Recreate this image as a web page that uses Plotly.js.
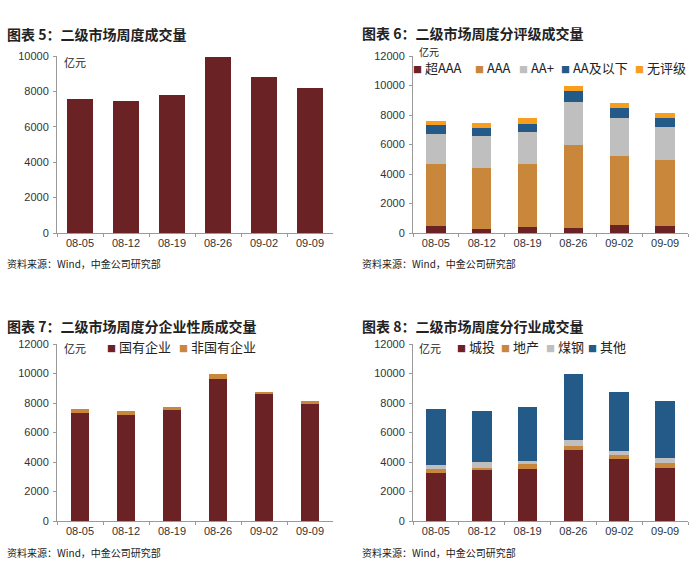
<!DOCTYPE html>
<html>
<head>
<meta charset="utf-8">
<script src="https://cdn.plot.ly/plotly-3.0.1.min.js"></script>
<style>html,body{margin:0;padding:0;background:#fff;}#chart{width:700px;height:568px;}</style>
</head>
<body>
<div id="chart"></div>
<script>
// ---- data ----
var weeks = ['08-05', '08-12', '08-19', '08-26', '09-02', '09-09'];

// 图表5 二级市场周度成交量（亿元）
var totalVolume = [7590, 7480, 7780, 9960, 8830, 8180];

// 图表6 分评级
var ratingNames = ['超AAA', 'AAA', 'AA+', 'AA及以下', '无评级'];
var superAAA = [450, 300, 390, 320, 540, 500];
var ratingAAA = [4260, 4140, 4300, 5660, 4690, 4480];
var ratingAAplus = [1990, 2130, 2130, 2920, 2540, 2220];
var ratingAAbelow = [610, 570, 590, 700, 680, 610];
var unrated = [290, 340, 360, 360, 340, 340];

// 图表7 分企业性质
var ownerNames = ['国有企业', '非国有企业'];
var stateOwned = [7310, 7200, 7520, 9650, 8580, 7920];
var nonStateOwned = [270, 250, 230, 300, 200, 230];

// 图表8 分行业
var industryNames = ['城投', '地产', '煤钢', '其他'];
var chengtou = [3240, 3460, 3550, 4800, 4190, 3620];
var property = [270, 160, 300, 290, 270, 300];
var coalSteel = [270, 360, 220, 390, 290, 320];
var others = [3800, 3470, 3670, 4460, 4030, 3910];

var titles = ['图表 5：二级市场周度成交量', '图表 6：二级市场周度分评级成交量',
              '图表 7：二级市场周度分企业性质成交量', '图表 8：二级市场周度分行业成交量'];
var sourceText = '资料来源：Wind，中金公司研究部';
var unitText = '亿元';

// ---- styles ----
var C_RED = '#6B2224', C_ORG = '#C8873A', C_GRY = '#BFBFBF', C_BLU = '#245A87', C_YEL = '#F89E1E';
var W = 700, H = 568;
function px(x) { return x / W; }
function py(y) { return 1 - y / H; }
var FONT = 'Liberation Sans, Arial, Noto Sans CJK SC, sans-serif';
var CJK = 'Noto Sans CJK SC, sans-serif';

function bar(y, name, color, xa, ya, w) {
  return { type: 'bar', x: weeks, y: y, name: name, marker: { color: color, line: { width: 0 } },
           xaxis: xa, yaxis: ya, width: w, showlegend: false, hoverinfo: 'x+y+name' };
}

var data = [
  bar(totalVolume, '成交量', C_RED, 'x', 'y', 0.57),
  bar(superAAA, ratingNames[0], C_RED, 'x2', 'y2', 0.42),
  bar(ratingAAA, ratingNames[1], C_ORG, 'x2', 'y2', 0.42),
  bar(ratingAAplus, ratingNames[2], C_GRY, 'x2', 'y2', 0.42),
  bar(ratingAAbelow, ratingNames[3], C_BLU, 'x2', 'y2', 0.42),
  bar(unrated, ratingNames[4], C_YEL, 'x2', 'y2', 0.42),
  bar(stateOwned, ownerNames[0], C_RED, 'x3', 'y3', 0.41),
  bar(nonStateOwned, ownerNames[1], C_ORG, 'x3', 'y3', 0.41),
  bar(chengtou, industryNames[0], C_RED, 'x4', 'y4', 0.43),
  bar(property, industryNames[1], C_ORG, 'x4', 'y4', 0.43),
  bar(coalSteel, industryNames[2], C_GRY, 'x4', 'y4', 0.43),
  bar(others, industryNames[3], C_BLU, 'x4', 'y4', 0.43)
];

function xax(l, r, anchor) {
  return { domain: [px(l), px(r)], anchor: anchor, type: 'category', categoryorder: 'array', categoryarray: weeks,
           showline: true, linecolor: '#9A9A9A', linewidth: 1, ticks: 'outside', tickson: 'boundaries',
           ticklen: 3, tickcolor: '#9A9A9A', showgrid: false, zeroline: false, fixedrange: true,
           tickfont: { family: FONT, size: 11, color: '#333' } };
}
function yax(t, b, anchor, max, dtick) {
  return { domain: [py(b), py(t)], anchor: anchor, range: [0, max], dtick: dtick, tickformat: 'd',
           showline: true, linecolor: '#9A9A9A', linewidth: 1, ticks: 'outside', ticklen: 3, tickcolor: '#9A9A9A',
           showgrid: false, zeroline: false, fixedrange: true, ticklabelstandoff: 2,
           tickfont: { family: FONT, size: 11, color: '#333' } };
}

var annotations = [];
function txt(x, y, text, size, opts) {
  var a = { xref: 'paper', yref: 'paper', x: px(x), y: py(y), text: text, showarrow: false,
            xanchor: 'left', yanchor: 'middle', borderpad: 0, font: { family: CJK, size: size, color: '#222' } };
  for (var k in opts) a[k] = opts[k];
  annotations.push(a);
}
// titles
txt(6, 34, '<b>' + titles[0] + '</b>', 14);
txt(361, 33, '<b>' + titles[1] + '</b>', 14);
txt(6, 326, '<b>' + titles[2] + '</b>', 14);
txt(361, 326, '<b>' + titles[3] + '</b>', 14);
// sources
txt(6, 263, sourceText, 10);
txt(361, 263, sourceText, 10);
txt(6, 552, sourceText, 10);
txt(361, 552, sourceText, 10);
// units
txt(63, 62, unitText, 11);
txt(418, 51, unitText, 10);
txt(63, 348, unitText, 11);
txt(418, 348, unitText, 11);

// legends (colour square + name)
function leg(x, y, color, name, size) {
  txt(x, y, '<span style="color:' + color + ';font-size:' + Math.round(size * 0.7) + 'px">■</span> ' + name, size);
}
var leg2x = [412, 474, 518, 560, 634];
var leg2c = [C_RED, C_ORG, C_GRY, C_BLU, C_YEL];
for (var i = 0; i < ratingNames.length; i++) leg(leg2x[i], 67, leg2c[i], ratingNames[i], 13);
var leg3x = [106, 178];
var leg3c = [C_RED, C_ORG];
for (var j = 0; j < ownerNames.length; j++) leg(leg3x[j], 346, leg3c[j], ownerNames[j], 13);
var leg4x = [456, 500, 545, 587];
var leg4c = [C_RED, C_ORG, C_GRY, C_BLU];
for (var k = 0; k < industryNames.length; k++) leg(leg4x[k], 346, leg4c[k], industryNames[k], 13);

var layout = {
  width: W, height: H, margin: { l: 0, r: 0, t: 0, b: 0 },
  paper_bgcolor: '#fff', plot_bgcolor: '#fff', barmode: 'stack', showlegend: false,
  font: { family: FONT, color: '#333' },
  xaxis: xax(57, 333, 'y'), yaxis: yax(56, 233, 'x', 10000, 2000),
  xaxis2: xax(413, 688, 'y2'), yaxis2: yax(56, 233, 'x2', 12000, 2000),
  xaxis3: xax(57, 333, 'y3'), yaxis3: yax(344, 521, 'x3', 12000, 2000),
  xaxis4: xax(413, 688, 'y4'), yaxis4: yax(344, 521, 'x4', 12000, 2000),
  annotations: annotations
};

Plotly.newPlot('chart', data, layout, { displayModeBar: false, staticPlot: true });
</script>
</body>
</html>
